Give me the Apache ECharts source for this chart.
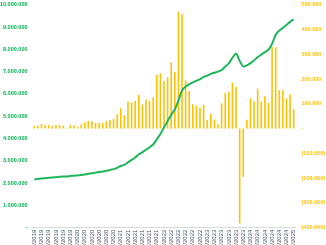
<!DOCTYPE html>
<html>
<head>
<meta charset="utf-8">
<script src="https://cdn.jsdelivr.net/npm/echarts@6/dist/echarts.min.js"></script>
<style>
html,body{margin:0;padding:0;background:#fff;}
#c{width:326px;height:245px;}
</style>
</head>
<body>
<div id="c"></div>
<script>
const months = ['jan','fev','mar','abr','mai','jun','jul','ago','set','out','nov','dez'];
const years = [2019, 2020, 2021, 2022, 2023, 2024, 2025];
const categories = [];
for (const y of years) {
  for (const m of months) {
    if (categories.length < 73) categories.push(m + '/' + y);
  }
}

// Monthly change (right axis)
const monthlyChange = [
  11000, 11000, 19000, 14000, 14000, 11000, 15000, 14000, 11000, 2000,
  15000, 12000, 7000, 16000, 26000, 32000, 30000, 23000, 23000, 23000,
  30000, 35000, 39000, 58000, 82000, 54000, 109000, 106000, 112000, 136000,
  97000, 117000, 112000, 125000, 217000, 223000, 192000, 207000, 268000, 229000,
  472000, 461000, 195000, 152000, 98000, 93000, 84000, 96000, 34000, 60000,
  37000, 18000, 102000, 144000, 149000, 186000, 169000, -383000, -195000, 36000,
  122000, 109000, 161000, 109000, 131000, 104000, 329000, 328000, 155000, 155000,
  122000, 139000, 78000
];

// Total (left axis)
const total = [
  2170000, 2185000, 2205000, 2220000, 2235000, 2250000, 2265000, 2280000, 2295000, 2300000,
  2318000, 2332000, 2342000, 2360000, 2385000, 2415000, 2445000, 2470000, 2495000, 2520000,
  2550000, 2585000, 2625000, 2685000, 2765000, 2820000, 2930000, 3040000, 3150000, 3285000,
  3380000, 3495000, 3605000, 3730000, 3960000, 4200000, 4500000, 4780000, 5060000, 5300000,
  5700000, 6150000, 6330000, 6430000, 6520000, 6590000, 6660000, 6760000, 6820000, 6900000,
  6950000, 7000000, 7070000, 7230000, 7370000, 7620000, 7810000, 7480000, 7230000, 7280000,
  7380000, 7500000, 7650000, 7760000, 7870000, 7980000, 8250000, 8650000, 8840000, 8960000,
  9090000, 9230000, 9340000
];

function fmt(v) {
  return Math.abs(v).toString().replace(/\B(?=(\d{3})+(?!\d))/g, '.');
}

const chart = echarts.init(document.getElementById('c'), null, {renderer: 'canvas'});
chart.setOption({
  animation: false,
  backgroundColor: '#ffffff',
  grid: {left: 32.5, right: 30.5, top: 4.7, bottom: 17.3, containLabel: false, outerBoundsMode: 'none'},
  xAxis: {
    type: 'category',
    data: categories,
    boundaryGap: true,
    axisLine: {show: true, lineStyle: {color: '#d9d9d9', width: 1}},
    axisTick: {show: false},
    axisLabel: {
      interval: 1,
      rotate: 90,
      fontSize: 6,
      color: '#44546a',
      fontFamily: 'Liberation Sans',
      margin: 2,
      hideOverlap: false
    },
    splitLine: {show: false}
  },
  yAxis: [
    {
      type: 'value',
      min: 0, max: 10000000, interval: 1000000,
      position: 'left',
      axisLine: {show: false},
      axisTick: {show: false},
      splitLine: {show: false},
      axisLabel: {
        fontSize: 5.5,
        fontWeight: 'bold',
        color: '#00b050',
        fontFamily: 'Liberation Sans',
        margin: 5,
        formatter: v => v === 0 ? '-' : fmt(v)
      }
    },
    {
      type: 'value',
      min: -400000, max: 500000, interval: 100000,
      position: 'right',
      axisLine: {show: false},
      axisTick: {show: false},
      splitLine: {show: false},
      axisLabel: {
        fontSize: 5.5,
        fontWeight: 'bold',
        color: '#ffc000',
        fontFamily: 'Liberation Sans',
        margin: 6,
        formatter: v => v === 0 ? '-' : (v < 0 ? '(' + fmt(v) + ')' : fmt(v))
      }
    }
  ],
  series: [
    {
      type: 'bar',
      yAxisIndex: 1,
      data: monthlyChange,
      barWidth: 1.6,
      itemStyle: {color: '#ffc000'}
    },
    {
      type: 'line',
      yAxisIndex: 0,
      data: total,
      showSymbol: false,
      smooth: 0.2,
      lineStyle: {color: '#1fb55a', width: 2},
      itemStyle: {color: '#1fb55a'}
    }
  ]
});
</script>
</body>
</html>
